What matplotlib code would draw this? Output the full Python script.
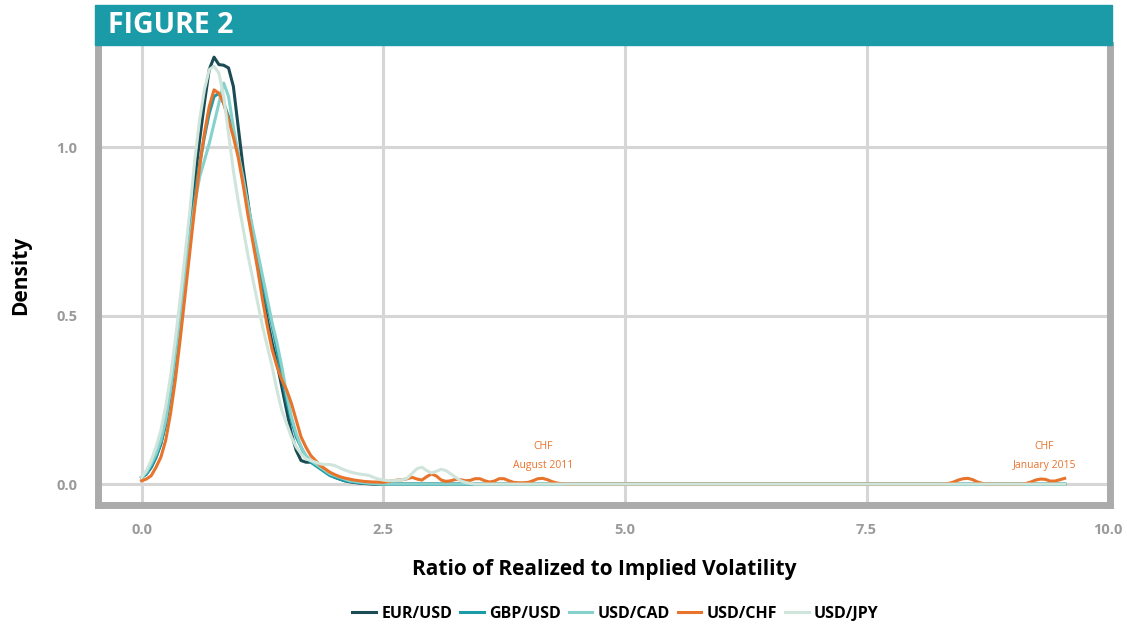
import numpy as np
import matplotlib
matplotlib.use("Agg")
import matplotlib.pyplot as plt
from matplotlib.patches import Rectangle

plt.rcParams['font.family'] = ['Open Sans', 'DejaVu Sans']

# evaluation grid of the density curves (main body)
ratio = np.round(np.arange(0, 2.501, 0.05), 2)

eur_usd = [0.02, 0.03, 0.05, 0.08, 0.12, 0.18, 0.27, 0.38, 0.50, 0.63,
           0.77, 0.90, 1.02, 1.13, 1.23, 1.267, 1.245, 1.243, 1.235, 1.18,
           1.06, 0.94, 0.84, 0.74, 0.65, 0.57, 0.49, 0.42, 0.36, 0.29,
           0.22, 0.15, 0.10, 0.07, 0.065, 0.065, 0.06, 0.05, 0.04, 0.03,
           0.02, 0.015, 0.01, 0.007, 0.005, 0.003, 0.002, 0.001, 0.0, 0.0, 0.0]
gbp_usd = [0.02, 0.03, 0.05, 0.08, 0.12, 0.18, 0.27, 0.38, 0.50, 0.62,
           0.74, 0.85, 0.95, 1.03, 1.10, 1.15, 1.16, 1.13, 1.09, 1.04,
           0.98, 0.90, 0.82, 0.74, 0.67, 0.60, 0.53, 0.47, 0.40, 0.32,
           0.25, 0.19, 0.14, 0.11, 0.08, 0.065, 0.055, 0.045, 0.035, 0.025,
           0.02, 0.015, 0.01, 0.008, 0.006, 0.004, 0.003, 0.002, 0.001, 0.0, 0.0]
usd_cad = [0.02, 0.035, 0.06, 0.09, 0.13, 0.19, 0.28, 0.39, 0.50, 0.62,
           0.73, 0.83, 0.91, 0.96, 1.01, 1.07, 1.13, 1.19, 1.15, 1.06,
           0.98, 0.91, 0.83, 0.76, 0.69, 0.62, 0.55, 0.48, 0.42, 0.35,
           0.27, 0.20, 0.15, 0.11, 0.085, 0.07, 0.06, 0.05, 0.04, 0.03,
           0.025, 0.02, 0.015, 0.01, 0.008, 0.006, 0.004, 0.003, 0.002, 0.001, 0.0]
usd_chf = [0.01, 0.015, 0.025, 0.05, 0.08, 0.13, 0.21, 0.31, 0.43, 0.56,
           0.69, 0.82, 0.94, 1.04, 1.12, 1.17, 1.16, 1.13, 1.08, 1.03,
           0.97, 0.89, 0.80, 0.72, 0.64, 0.55, 0.47, 0.40, 0.35, 0.31,
           0.28, 0.24, 0.19, 0.14, 0.11, 0.085, 0.07, 0.055, 0.045, 0.035,
           0.028, 0.022, 0.018, 0.015, 0.012, 0.01, 0.008, 0.007, 0.006, 0.006, 0.005]
usd_jpy = [0.02, 0.04, 0.07, 0.11, 0.16, 0.23, 0.32, 0.43, 0.55, 0.68,
           0.81, 0.96, 1.08, 1.17, 1.23, 1.24, 1.22, 1.15, 1.04, 0.93,
           0.84, 0.76, 0.68, 0.61, 0.54, 0.47, 0.41, 0.35, 0.28, 0.22,
           0.18, 0.14, 0.11, 0.09, 0.075, 0.07, 0.065, 0.06, 0.058, 0.058,
           0.055, 0.048, 0.042, 0.037, 0.033, 0.03, 0.028, 0.026, 0.02, 0.015, 0.012]

# tails beyond 2.5
flat_tail_x = [9.55]
flat_tail_y = [0.0]

chf_tail_x = [2.55, 2.6, 2.65, 2.7, 2.75, 2.8, 2.85, 2.9, 2.95, 3.0,
              3.05, 3.1, 3.15, 3.2, 3.25, 3.3, 3.35, 3.4, 3.45, 3.5,
              3.55, 3.6, 3.65, 3.7, 3.75, 3.8, 3.85, 3.9, 3.95, 4.0,
              4.05, 4.1, 4.15, 4.2, 4.25, 4.3, 4.35, 4.4,
              8.3, 8.35, 8.4, 8.45, 8.5, 8.55, 8.6, 8.65, 8.7, 8.75,
              9.1, 9.15, 9.2, 9.25, 9.3, 9.35, 9.4, 9.45, 9.5, 9.55]
chf_tail_y = [0.008, 0.01, 0.012, 0.013, 0.016, 0.02, 0.015, 0.012, 0.022, 0.03,
              0.024, 0.012, 0.008, 0.01, 0.014, 0.013, 0.01, 0.011, 0.016, 0.016,
              0.01, 0.006, 0.009, 0.016, 0.016, 0.01, 0.005, 0.004, 0.004, 0.005,
              0.01, 0.016, 0.017, 0.013, 0.007, 0.003, 0.001, 0.0,
              0.0, 0.002, 0.006, 0.012, 0.016, 0.017, 0.013, 0.006, 0.002, 0.0,
              0.0, 0.002, 0.006, 0.012, 0.015, 0.014, 0.009, 0.009, 0.013, 0.017]

jpy_tail_x = [2.55, 2.6, 2.65, 2.7, 2.75, 2.8, 2.85, 2.9, 2.95, 3.0,
              3.05, 3.1, 3.15, 3.2, 3.25, 3.3, 3.35, 3.4, 3.45, 9.55]
jpy_tail_y = [0.01, 0.01, 0.011, 0.013, 0.018, 0.032, 0.046, 0.05, 0.04, 0.033,
              0.038, 0.044, 0.04, 0.03, 0.02, 0.01, 0.005, 0.002, 0.0, 0.0]

pairs = ['EUR/USD', 'GBP/USD', 'USD/CAD', 'USD/CHF', 'USD/JPY']
colors = ['#1b4c53', '#1b9ba6', '#86d1cc', '#e8732b', '#cfe5db']
series = [
    (eur_usd, flat_tail_x, flat_tail_y),
    (gbp_usd, flat_tail_x, flat_tail_y),
    (usd_cad, flat_tail_x, flat_tail_y),
    (usd_chf, chf_tail_x, chf_tail_y),
    (usd_jpy, jpy_tail_x, jpy_tail_y),
]

fig = plt.figure(figsize=(11.27, 6.27), dpi=100)
ax = fig.add_axes([0.087, 0.1946, 0.898, 0.7336])

for name, col, (core, tx, ty) in zip(pairs, colors, series):
    x = np.concatenate([ratio, tx])
    y = np.concatenate([core, ty])
    ax.plot(x, y, color=col, lw=2.2, label=name, solid_joinstyle='round', zorder=3)

ax.set_xlim(-0.45, 10.02)
ax.set_ylim(-0.062, 1.303)
ax.set_xticks([0, 2.5, 5, 7.5, 10])
ax.set_xticklabels(['0.0', '2.5', '5.0', '7.5', '10.0'])
ax.set_yticks([0, 0.5, 1.0])
ax.set_yticklabels(['0.0', '0.5', '1.0'])
ax.tick_params(length=0, labelcolor='#9a9a9a', labelsize=10.5)
ax.tick_params(axis='x', pad=13)
ax.tick_params(axis='y', pad=15)
for lab in ax.get_xticklabels() + ax.get_yticklabels():
    lab.set_fontweight('bold')
ax.grid(color='#d6d6d6', lw=2.2)
ax.set_axisbelow(True)

for s in ['left', 'right', 'bottom']:
    ax.spines[s].set_color('#ababab')
    ax.spines[s].set_linewidth(5)
ax.spines['top'].set_visible(False)

ax.set_xlabel('Ratio of Realized to Implied Volatility', fontsize=15,
              fontweight='bold', labelpad=16)
ax.set_ylabel('Density', fontsize=15, fontweight='bold', labelpad=18)

# annotations for the CHF events
ax.text(4.15, 0.04, 'CHF\nAugust 2011', color='#e8732b', fontsize=7.5,
        ha='center', va='bottom', linespacing=1.9)
ax.text(9.34, 0.04, 'CHF\nJanuary 2015', color='#e8732b', fontsize=7.5,
        ha='center', va='bottom', linespacing=1.9)

# header band
fig.patches.append(Rectangle((0.0843, 0.9282), 0.9024, 0.0638,
                             transform=fig.transFigure, color='#1a9ba7', zorder=5))
fig.text(0.0958, 0.960, 'FIGURE 2', color='white', fontsize=20.5,
         fontweight='bold', va='center', ha='left', zorder=6)

fig.legend(loc='center', bbox_to_anchor=(0.546, 0.021), ncol=5, frameon=False,
           handlelength=1.5, handletextpad=0.3, columnspacing=0.5,
           prop={'weight': 'bold', 'size': 11.5})

fig.savefig('out.png', dpi=100)
